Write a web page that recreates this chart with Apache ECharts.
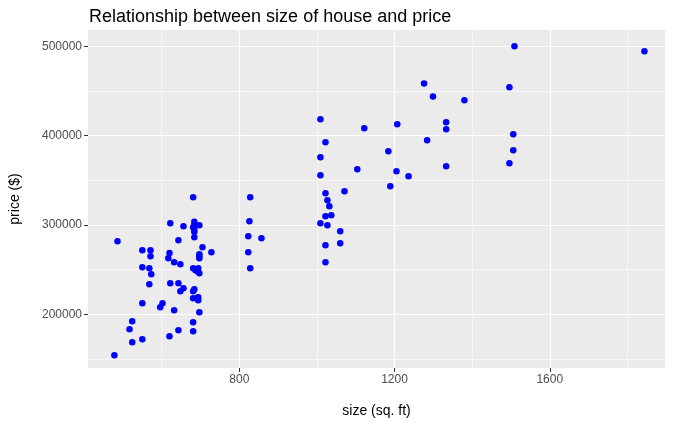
<!DOCTYPE html>
<html><head><meta charset="utf-8">
<script src="https://cdn.jsdelivr.net/npm/echarts@6/dist/echarts.min.js"></script>
<style>html,body{margin:0;padding:0;background:#fff}#c{width:677px;height:426px}</style>
</head><body><div id="c"></div>
<script>
const sizes = [681,828,622,656,684,684,681,697,684,684,826,486,643,684,823,857,550,571,571,620,617,705,728,697,697,697,823,632,648,550,568,573,681,694,687,692,697,828,568,622,643,656,648,684,681,681,694,694,692,550,602,596,632,697,524,517,681,643,681,620,524,550,478,1380,1009,1122,1207,1333,1333,1022,1284,1184,1009,1104,1205,1236,1333,1009,1189,1071,1022,1027,1032,1022,1037,1009,1027,1060,1060,1022,1022,1509,1844,1496,1506,1506,1496,1276,1299];
const prices = [331000,331000,301900,298500,303700,300000,297400,299700,294400,292500,304100,281700,282900,286200,287300,285100,271700,271700,265000,268600,262700,275000,269400,267200,265000,262700,269400,258200,256000,252600,251500,244800,251500,251500,249300,248200,245900,251500,233600,234700,234700,229100,225800,228000,225800,217900,219000,215700,217900,212300,212300,207800,204500,202200,192200,183200,191000,182100,181000,175400,168700,172000,154100,439600,418400,408300,412800,415000,407200,392600,394800,382500,375800,362400,360100,354500,365700,355700,343300,337700,335500,327700,320900,309700,310900,301900,299700,292900,279500,277300,258200,500100,494500,454200,401600,383700,369100,458500,444000];
const xMajor = [800,1200,1600];
const xMinor = [600,1000,1400,1800];
const yMajor = [200000,300000,400000,500000];
const yMinor = [150000,250000,350000,450000];
const chart = echarts.init(document.getElementById('c'));
const ml = [];
xMinor.forEach(v=>ml.push({xAxis:v,lineStyle:{width:0.6}}));
yMinor.forEach(v=>ml.push({yAxis:v,lineStyle:{width:0.6}}));
xMajor.forEach(v=>ml.push({xAxis:v,lineStyle:{width:1.2}}));
yMajor.forEach(v=>ml.push({yAxis:v,lineStyle:{width:1.2}}));
const fmt = v => String(v);
chart.setOption({
  animation:false,
  title:{text:'Relationship between size of house and price',left:84,top:3,textStyle:{fontFamily:'Liberation Sans',fontSize:18,fontWeight:'normal',color:'#000'}},
  grid:{left:88,right:12,top:30,bottom:58,show:true,backgroundColor:'#EBEBEB',borderWidth:0},
  xAxis:{type:'value',min:410,max:1897,name:'size (sq. ft)',nameLocation:'middle',nameGap:36,
    nameTextStyle:{fontFamily:'Liberation Sans',fontSize:14,color:'#000'},
    axisLine:{show:false},splitLine:{show:false},
    axisTick:{show:true,length:4,lineStyle:{color:'#333'},customValues:xMajor},
    axisLabel:{customValues:xMajor,formatter:fmt,color:'#4d4d4d',fontFamily:'Liberation Sans',fontSize:12,margin:6}},
  yAxis:{type:'value',min:139870,max:518400,name:'price ($)',nameLocation:'middle',nameGap:66,
    nameTextStyle:{fontFamily:'Liberation Sans',fontSize:14,color:'#000'},
    axisLine:{show:false},splitLine:{show:false},
    axisTick:{show:true,length:4,lineStyle:{color:'#333'},customValues:yMajor},
    axisLabel:{customValues:yMajor,formatter:fmt,color:'#4d4d4d',fontFamily:'Liberation Sans',fontSize:12,margin:6}},
  series:[{type:'scatter',data:sizes.map((s,i)=>[s,prices[i]]),symbolSize:6.5,itemStyle:{color:'#0000FF',opacity:1},z:5,
    markLine:{silent:true,symbol:'none',label:{show:false},lineStyle:{color:'#fff',type:'solid'},data:ml,z:1}}]
});
</script></body></html>
